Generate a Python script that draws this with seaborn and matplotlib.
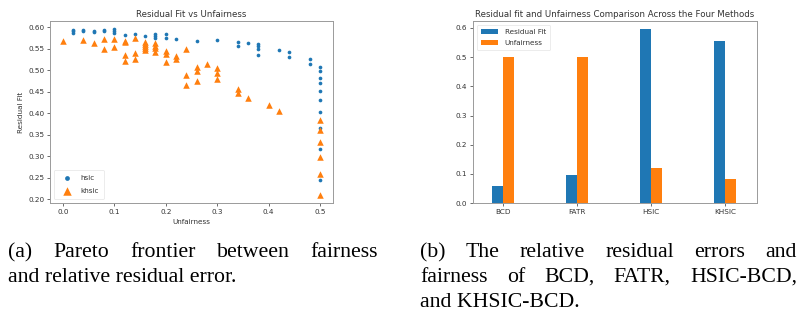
import matplotlib
matplotlib.use("Agg")
import matplotlib.pyplot as plt
import seaborn as sns
import pandas as pd

# ---------------- data ----------------
hsic_x = [0.02, 0.02, 0.02, 0.04, 0.04, 0.06, 0.06, 0.08, 0.08, 0.10, 0.10, 0.10,
          0.12, 0.14, 0.16, 0.18, 0.18, 0.18, 0.20, 0.20, 0.22, 0.26, 0.30, 0.34,
          0.34, 0.36, 0.38, 0.38, 0.38, 0.38, 0.42, 0.44, 0.44, 0.48, 0.48,
          0.50, 0.50, 0.50, 0.50, 0.50, 0.50, 0.50, 0.50, 0.50, 0.50]
hsic_y = [0.594, 0.590, 0.587, 0.594, 0.591, 0.592, 0.589, 0.594, 0.590, 0.596, 0.591, 0.587,
          0.581, 0.585, 0.579, 0.583, 0.579, 0.575, 0.583, 0.575, 0.572, 0.568, 0.571, 0.565,
          0.557, 0.563, 0.562, 0.556, 0.550, 0.536, 0.546, 0.542, 0.530, 0.525, 0.515,
          0.508, 0.497, 0.483, 0.470, 0.452, 0.431, 0.403, 0.366, 0.318, 0.246]

khsic_x = [0.00, 0.04, 0.06, 0.08, 0.08, 0.10, 0.10, 0.12, 0.12, 0.12, 0.12,
           0.14, 0.14, 0.14, 0.16, 0.16, 0.16, 0.16, 0.16, 0.18, 0.18, 0.18, 0.18,
           0.20, 0.20, 0.20, 0.22, 0.22, 0.24, 0.24, 0.24, 0.26, 0.26, 0.26, 0.28,
           0.30, 0.30, 0.30, 0.34, 0.34, 0.36, 0.40, 0.42,
           0.50, 0.50, 0.50, 0.50, 0.50, 0.50]
khsic_y = [0.568, 0.570, 0.563, 0.572, 0.550, 0.572, 0.553, 0.569, 0.566, 0.535, 0.522,
           0.575, 0.541, 0.525, 0.565, 0.561, 0.556, 0.552, 0.546, 0.563, 0.556, 0.551, 0.542,
           0.545, 0.537, 0.518, 0.532, 0.527, 0.550, 0.488, 0.466, 0.508, 0.498, 0.474, 0.515,
           0.505, 0.494, 0.480, 0.456, 0.447, 0.435, 0.419, 0.405,
           0.385, 0.362, 0.333, 0.298, 0.259, 0.211]

methods = ["BCD", "FATR", "HSIC", "KHSIC"]
residual_fit = [0.057, 0.097, 0.595, 0.557]
unfairness = [0.500, 0.500, 0.120, 0.083]

title_a = "Residual Fit vs Unfairness"
title_b = "Residual fit and Unfairness Comparison Across the Four Methods"

# ---------------- style ----------------
BLUE = "#1f77b4"
ORANGE = "#ff7f0e"
FS = 5.2
plt.rcParams.update({
    "font.family": ["DejaVu Sans"],
    "font.size": FS,
    "text.color": "#333333",
    "axes.labelcolor": "#333333",
    "xtick.color": "#333333",
    "ytick.color": "#333333",
    "axes.edgecolor": "#9a9a9a",
    "axes.linewidth": 0.7,
    "xtick.major.size": 2.0,
    "ytick.major.size": 2.0,
    "xtick.major.width": 0.5,
    "ytick.major.width": 0.5,
    "xtick.major.pad": 2.0,
    "ytick.major.pad": 2.0,
    "legend.fontsize": FS,
})

W, H = 798, 322
fig = plt.figure(figsize=(W / 100, H / 100), dpi=100)

def pos(x0, y0, x1, y1):
    return [x0 / W, 1 - y1 / H, (x1 - x0) / W, (y1 - y0) / H]

# ---------------- left: scatter ----------------
ax1 = fig.add_axes(pos(50, 21, 333, 203))
df_h = pd.DataFrame({"Unfairness": hsic_x, "Residual Fit": hsic_y})
df_k = pd.DataFrame({"Unfairness": khsic_x, "Residual Fit": khsic_y})
sns.scatterplot(data=df_h, x="Unfairness", y="Residual Fit", ax=ax1, color=BLUE,
                marker="o", s=7, linewidth=0, label="hsic")
sns.scatterplot(data=df_k, x="Unfairness", y="Residual Fit", ax=ax1, color=ORANGE,
                marker="^", s=22, linewidth=0, label="khsic")
ax1.set_xlim(-0.025, 0.525)
ax1.set_ylim(0.1915, 0.6143)
ax1.set_xticks([0.0, 0.1, 0.2, 0.3, 0.4, 0.5])
ax1.set_yticks([0.20, 0.25, 0.30, 0.35, 0.40, 0.45, 0.50, 0.55, 0.60])
ax1.yaxis.set_major_formatter(matplotlib.ticker.FormatStrFormatter("%.2f"))
ax1.set_title(title_a, fontsize=6.2, pad=3)
ax1.set_xlabel("Unfairness", fontsize=FS, labelpad=3)
ax1.set_ylabel("Residual Fit", fontsize=FS, labelpad=3)
leg1 = ax1.legend(loc="lower left", frameon=True, fontsize=FS, markerscale=1.3,
                  handletextpad=0.8, borderpad=0.7, labelspacing=1.0, handlelength=2.2)
leg1.get_frame().set_linewidth(0.5)
leg1.get_frame().set_edgecolor("#dddddd")

# ---------------- right: bars ----------------
ax2 = fig.add_axes(pos(473, 21, 757, 203))
df_b = pd.DataFrame({
    "method": methods + methods,
    "value": residual_fit + unfairness,
    "metric": ["Residual Fit"] * len(methods) + ["Unfairness"] * len(methods),
})
sns.barplot(data=df_b, x="method", y="value", hue="metric", ax=ax2,
            palette=[BLUE, ORANGE], width=0.3, saturation=1.0, linewidth=0)
ax2.set_xlim(-0.4, 3.43)
ax2.set_ylim(0, 0.624)
ax2.set_yticks([0.0, 0.1, 0.2, 0.3, 0.4, 0.5, 0.6])
ax2.set_xlabel("")
ax2.set_ylabel("")
ax2.set_title(title_b, fontsize=6.2, pad=3)
leg2 = ax2.legend(loc="upper left", frameon=True, fontsize=FS, title=None,
                  handletextpad=0.9, borderpad=0.6, labelspacing=0.7, handlelength=2.4)
leg2.get_frame().set_linewidth(0.5)
leg2.get_frame().set_edgecolor("#dddddd")

for ax in (ax1, ax2):
    ax.set_facecolor("white")
    for s in ax.spines.values():
        s.set_visible(True)

# ---------------- captions (justified serif text) ----------------
CAP_FS = 15.7
renderer = fig.canvas.get_renderer()

def word_width(w):
    t = fig.text(0, 0, w, fontsize=CAP_FS, family="Liberation Serif")
    bb = t.get_window_extent(renderer)
    t.remove()
    return bb.width

def put_line(words, x0, x1, yb, justify=True):
    if not justify:
        fig.text(x0 / W, 1 - yb / H, " ".join(words), fontsize=CAP_FS,
                 family="Liberation Serif", color="black", va="baseline", ha="left")
        return
    widths = [word_width(w) for w in words]
    gap = (x1 - x0 - sum(widths)) / (len(words) - 1)
    x = x0
    for w, wd in zip(words, widths):
        fig.text(x / W, 1 - yb / H, w, fontsize=CAP_FS, family="Liberation Serif",
                 color="black", va="baseline", ha="left")
        x += wd + gap

put_line(["(a)", "Pareto", "frontier", "between", "fairness"], 8, 378, 257)
put_line(["and", "relative", "residual", "error."], 8, 378, 282, justify=False)
put_line(["(b)", "The", "relative", "residual", "errors", "and"], 420, 797, 257)
put_line(["fairness", "of", "BCD,", "FATR,", "HSIC-BCD,"], 420, 797, 282)
put_line(["and", "KHSIC-BCD."], 420, 797, 307, justify=False)

fig.savefig("out.png", dpi=100, facecolor="white")
